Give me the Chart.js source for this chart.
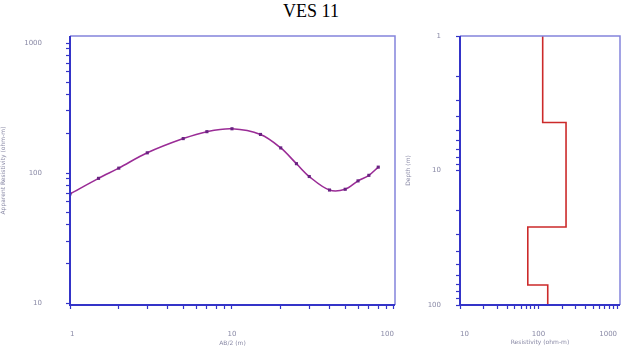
<!DOCTYPE html>
<html>
<head>
<meta charset="utf-8">
<script src="https://cdn.jsdelivr.net/npm/chart.js@4"></script>
<style>
  html, body { margin: 0; padding: 0; background: #fff; }
  #wrap { position: relative; width: 622px; height: 351px; overflow: hidden; }
  #title { position: absolute; left: 0; width: 622px; top: 1px; text-align: center;
           font-family: 'Liberation Serif', serif; font-size: 18px; color: #000; }
  #c1 { position: absolute; left: 0; top: 0; }
  #c2 { position: absolute; left: 405px; top: 0; }
</style>
</head>
<body>
<div id="wrap">
  <div id="title">VES 11</div>
  <canvas id="c1" width="405" height="351"></canvas>
  <canvas id="c2" width="217" height="351"></canvas>
</div>
<script>
// ─── DATA ─────────────────────────────────────────────────────────────────
const AB2 = [1, 1.5, 2, 3, 5, 7, 10, 15, 20, 25, 30, 40, 50, 60, 70, 80];
const RHO_APP = [69, 91, 109, 143, 184, 208, 219, 198, 156, 118, 94, 74, 75, 87, 96, 111];

// modelo por capas (resistividad, profundidad)
const MODEL_RHO   = [113, 113, 224, 224, 73, 73, 131, 131];
const MODEL_DEPTH = [1, 4.4, 4.4, 26.3, 26.3, 71, 71, 100];

const Y_TICKS_LEFT = [10, 100, 1000];
const X_TICKS_LEFT = [1, 10, 100];
const X_TICKS_RIGHT = [10, 100, 1000];
const Y_TICKS_RIGHT = [1, 10, 100];

// ─── STYLE ────────────────────────────────────────────────────────────────
const AXIS_BLUE = '#3434c8';
const FRAME_BLUE = '#8484dc';
const LABEL_GREY = '#8a8aa6';
const tickFont = { family: "'DejaVu Sans', sans-serif", size: 7 };
const titleFont = { family: "'DejaVu Sans', sans-serif", size: 6 };

// ticks de 1..9 x 10^n dentro del rango
function logTicks(min, max) {
  const out = [];
  for (let e = Math.floor(Math.log10(min)); e <= Math.ceil(Math.log10(max)); e++) {
    for (let s = 1; s < 10; s++) {
      const v = s * Math.pow(10, e);
      if (v >= min * 0.999 && v <= max * 1.001) out.push({ value: v });
    }
  }
  return out;
}
function isLabelled(list, v) { return list.some(t => Math.abs(t - v) / t < 1e-6); }

const framePlugin = {
  id: 'frame',
  afterDraw(chart) {
    const { ctx, chartArea: a } = chart;
    ctx.save();
    ctx.strokeStyle = FRAME_BLUE; ctx.lineWidth = 1.5;
    ctx.beginPath();
    ctx.moveTo(a.left, a.top); ctx.lineTo(a.right, a.top); ctx.lineTo(a.right, a.bottom);
    ctx.stroke();
    ctx.strokeStyle = AXIS_BLUE; ctx.lineWidth = 2;
    ctx.beginPath();
    ctx.moveTo(a.left, a.top); ctx.lineTo(a.left, a.bottom); ctx.lineTo(a.right, a.bottom);
    ctx.stroke();
    ctx.restore();
  }
};

function axis(opts) {
  return {
    type: 'logarithmic',
    min: opts.min, max: opts.max, reverse: !!opts.reverse,
    position: opts.position,
    afterBuildTicks: s => { s.ticks = logTicks(opts.min, opts.max); },
    afterFit: s => {
      if (opts.width) s.width = opts.width;
      if (opts.height) s.height = opts.height;
      s.paddingLeft = 0; s.paddingRight = 0; s.paddingTop = 0; s.paddingBottom = 0;
    },
    border: { display: false },
    grid: { drawOnChartArea: false, drawTicks: true, tickLength: 4, tickColor: AXIS_BLUE, tickWidth: 1.2 },
    ticks: {
      autoSkip: false, maxRotation: 0, padding: opts.pad, color: LABEL_GREY, font: tickFont,
      align: opts.align || 'center',
      callback: v => isLabelled(opts.labels, v) ? String(v) : ''
    },
    title: { display: true, text: opts.title, color: LABEL_GREY, font: titleFont, padding: opts.titlePad }
  };
}

Chart.defaults.animation = false;

// ─── CURVA DE RESISTIVIDAD APARENTE ───────────────────────────────────────
new Chart(document.getElementById('c1'), {
  type: 'scatter',
  data: {
    datasets: [{
      data: AB2.map((x, i) => ({ x, y: RHO_APP[i] })),
      showLine: true, tension: 0.35,
      borderColor: '#9a2c96', borderWidth: 1.6,
      pointStyle: 'rect', pointRadius: 2.2, pointBackgroundColor: '#6a2282', pointBorderWidth: 0
    }]
  },
  options: {
    responsive: false,
    layout: { padding: { top: 36, right: 10, left: 0, bottom: 0 } },
    plugins: { legend: { display: false }, tooltip: { enabled: false } },
    scales: {
      x: axis({ min: 1, max: 101.5, position: 'bottom', height: 46, pad: 21, labels: X_TICKS_LEFT,
                align: 'inner', title: 'AB/2 (m)', titlePad: { top: 0, bottom: 4 } }),
      y: axis({ min: 9.66, max: 1132, position: 'left', width: 70, pad: 24, labels: Y_TICKS_LEFT,
                title: 'Apparent Resistivity (ohm-m)', titlePad: { top: 0, bottom: 7 } })
    }
  },
  plugins: [framePlugin]
});

// ─── MODELO DE CAPAS ──────────────────────────────────────────────────────
new Chart(document.getElementById('c2'), {
  type: 'scatter',
  data: {
    datasets: [{
      data: MODEL_RHO.map((x, i) => ({ x, y: MODEL_DEPTH[i] })),
      showLine: true, tension: 0,
      borderColor: '#cc2a2a', borderWidth: 1.6, pointRadius: 0
    }]
  },
  options: {
    responsive: false,
    layout: { padding: { top: 36, right: 2, left: 0, bottom: 0 } },
    plugins: { legend: { display: false }, tooltip: { enabled: false } },
    scales: {
      x: axis({ min: 10, max: 1090, position: 'bottom', height: 46, pad: 21, labels: X_TICKS_RIGHT,
                align: 'inner', title: 'Resistivity (ohm-m)', titlePad: { top: 0, bottom: 5 } }),
      y: axis({ min: 1, max: 100, reverse: true, position: 'left', width: 55, pad: 15, labels: Y_TICKS_RIGHT,
                title: 'Depth (m)', titlePad: { top: 0, bottom: 6 } })
    }
  },
  plugins: [framePlugin]
});
</script>
</body>
</html>
